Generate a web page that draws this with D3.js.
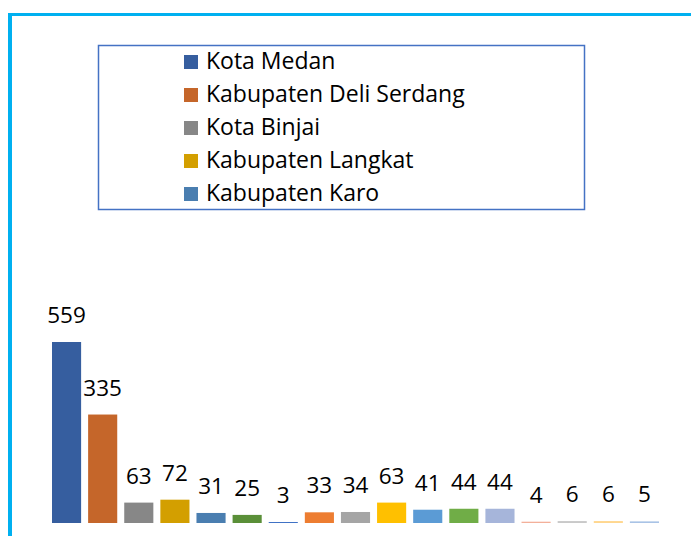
<!DOCTYPE html>
<html lang="id">
<head>
<meta charset="utf-8">
<title>Jumlah per Kabupaten/Kota</title>
<style>
  body { margin: 0; background: #fff; }
  text { font-family: "Open Sans", "Liberation Sans", sans-serif; fill: #000; }
</style>
</head>
<body>
<svg width="691" height="536"></svg>
<script src="https://cdn.jsdelivr.net/npm/d3@7"></script>
<script>
// data
var regions = ["Kota Medan", "Kabupaten Deli Serdang", "Kota Binjai", "Kabupaten Langkat",
  "Kabupaten Karo", "r6", "r7", "r8", "r9", "r10", "r11", "r12", "r13", "r14", "r15", "r16", "r17"];
var values = [559, 335, 63, 72, 31, 25, 3, 33, 34, 63, 41, 44, 44, 4, 6, 6, 5];
var colors = ["#365e9f", "#c5662a", "#878787", "#d39f00", "#4a7eb0", "#5a8f38", "#3b6fc4",
  "#ed7d31", "#a5a5a5", "#ffc000", "#5b9bd5", "#70ad47", "#a6b5da", "#f3b09a", "#c9c9c9",
  "#ffd78f", "#a9c3e6"];
var legendItems = regions.slice(0, 5);

var svg = d3.select("svg");

// cyan frame (top + left edge)
svg.append("rect").attr("x", 8).attr("y", 13).attr("width", 691).attr("height", 3).attr("fill", "#00b0f0");
svg.append("rect").attr("x", 8).attr("y", 13).attr("width", 4).attr("height", 536).attr("fill", "#00b0f0");

var x = d3.scaleBand().domain(d3.range(values.length)).range([48.5, 662.5]).paddingInner(0.194).paddingOuter(0.097);
var y = d3.scaleLinear().domain([0, 559]).range([523, 342]);

var bars = svg.append("g");
bars.selectAll("rect").data(values).enter().append("rect")
  .attr("x", function(d, i) { return x(i); })
  .attr("y", function(d) { return y(d); })
  .attr("width", x.bandwidth())
  .attr("height", function(d) { return y(0) - y(d); })
  .attr("fill", function(d, i) { return colors[i]; });

bars.selectAll("text").data(values).enter().append("text")
  .attr("x", function(d, i) { return x(i) + x.bandwidth() / 2; })
  .attr("y", function(d) { return y(d) - 19; })
  .attr("text-anchor", "middle")
  .attr("font-size", 22.5)
  .text(function(d) { return d; });

// legend
svg.append("rect").attr("x", 98.5).attr("y", 45.5).attr("width", 486).attr("height", 164)
  .attr("fill", "none").attr("stroke", "#4472c4").attr("stroke-width", 1.5);

var lg = svg.append("g").selectAll("g").data(legendItems).enter().append("g")
  .attr("transform", function(d, i) { return "translate(184," + (69 + i * 33) + ")"; });
lg.append("rect").attr("x", 0).attr("y", -14).attr("width", 14).attr("height", 14)
  .attr("fill", function(d, i) { return colors[i]; });
lg.append("text").attr("x", 22).attr("y", 0).attr("font-size", 23).text(function(d) { return d; });
</script>
</body>
</html>
